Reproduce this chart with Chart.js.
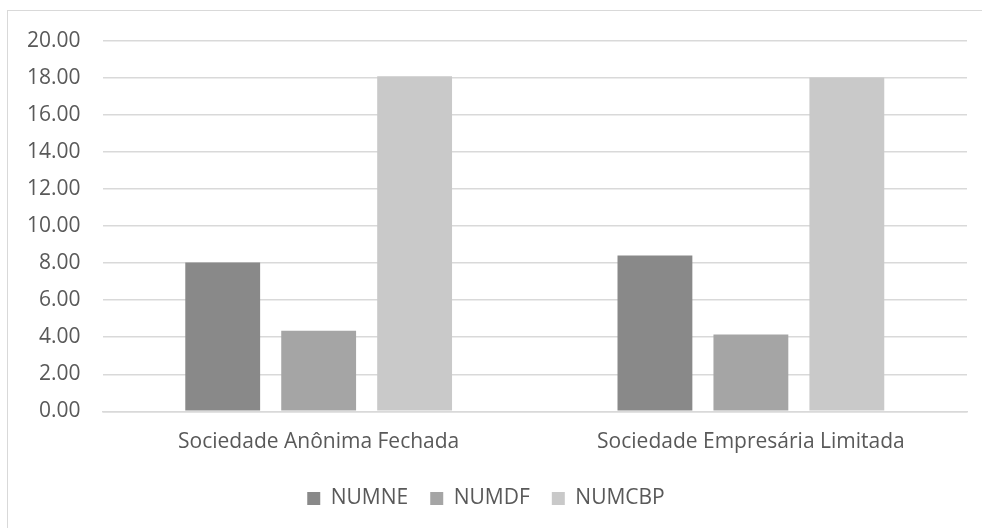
<!DOCTYPE html>
<html>
<head>
<meta charset="utf-8">
<script src="https://cdn.jsdelivr.net/npm/chart.js@4"></script>
<style>
  html, body { margin: 0; padding: 0; background: #fff; overflow: hidden; }
  #frame { position: absolute; left: 7px; top: 10px; width: 990px; height: 530px;
           border-left: 1px solid #d9d9d9; border-top: 1px solid #d9d9d9; }
  #wrap { position: absolute; left: 0; top: 0; width: 982px; height: 528px; }
</style>
</head>
<body>
<div id="frame"></div>
<div id="wrap"><canvas id="chart"></canvas></div>
<script>
const categories = ['Sociedade Anônima Fechada', 'Sociedade Empresária Limitada'];
const seriesNames = ['NUMNE', 'NUMDF', 'NUMCBP'];
const numne = [8.03, 8.41];
const numdf = [4.35, 4.15];
const numcbp = [18.1, 18.03];
const colors = ['#898989', '#a5a5a5', '#c9c9c9'];

const textColor = '#595959';
const font = { family: "'Open Sans', sans-serif", size: 21 };

const data = {
  labels: categories,
  datasets: [numne, numdf, numcbp].map((vals, i) => ({
    label: seriesNames[i],
    data: vals,
    backgroundColor: colors[i],
    barPercentage: 0.78,
    categoryPercentage: 0.666
  }))
};

new Chart(document.getElementById('chart'), {
  type: 'bar',
  data: data,
  options: {
    responsive: true,
    maintainAspectRatio: false,
    animation: false,
    layout: { padding: { left: 5, right: 15, top: 41, bottom: 9 } },
    plugins: {
      tooltip: { enabled: false },
      legend: {
        position: 'bottom',
        labels: { color: textColor, font: font, boxWidth: 13, boxHeight: 13, padding: 22 }
      }
    },
    scales: {
      x: {
        grid: { display: false },
        border: { color: '#d9d9d9', width: 1.5 },
        ticks: { color: textColor, font: font, padding: 10 },
        // a little extra gap between the category labels and the legend
        afterFit: scale => { scale.height += 1.5; }
      },
      y: {
        min: 0,
        max: 20,
        ticks: { stepSize: 2, color: textColor, font: font, padding: 22,
                 callback: v => v.toFixed(2) },
        grid: { color: '#d9d9d9', lineWidth: 1.5, drawTicks: false },
        border: { display: false }
      }
    }
  }
});
</script>
</body>
</html>
